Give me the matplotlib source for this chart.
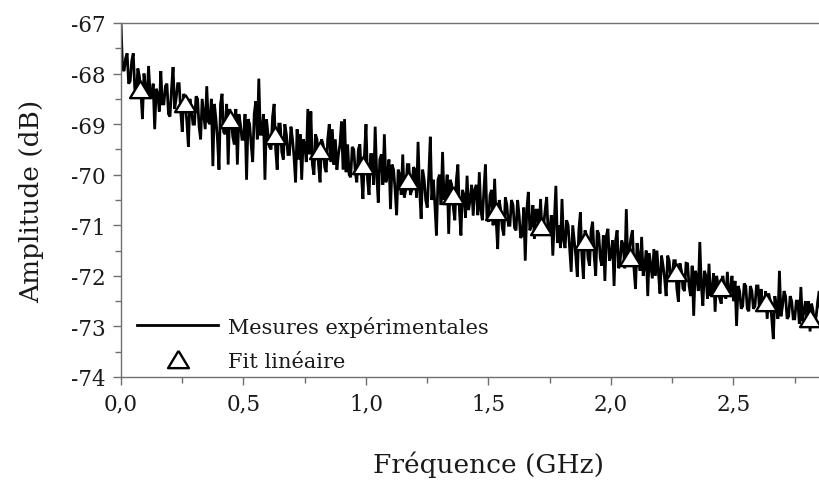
import numpy as np
import matplotlib
matplotlib.use("Agg")
import matplotlib.pyplot as plt
from matplotlib.ticker import MultipleLocator

plt.rcParams['font.family'] = ['DejaVu Serif']

# ---- data ----
freq_step = 0.00625  # GHz between measurement samples
mesures = [
    -67.0, -67.9, -67.95, -67.7, -67.6, -68.2, -68.15, -67.75, -67.6, -68.3,
    -68.45, -67.9, -68.05, -68.35, -68.9, -68.0, -68.3, -68.5, -67.85, -68.4,
    -68.5, -68.2, -69.1, -68.3, -68.4, -68.75, -67.95, -68.6, -68.6, -68.25,
    -68.2, -68.8, -68.85, -68.3, -67.87, -68.7, -68.5, -68.2, -68.2, -68.75,
    -69.15, -68.4, -68.6, -68.95, -69.45, -68.5, -68.7, -69.0, -69.0, -68.45,
    -68.5, -69.05, -69.3, -68.5, -68.8, -69.1, -68.25, -68.95, -69.0, -68.5,
    -69.83, -68.6, -68.9, -69.3, -69.9, -68.6, -68.4, -69.15, -69.2, -68.6,
    -69.8, -68.7, -68.9, -69.25, -69.4, -68.7, -69.8, -68.8, -69.0, -69.3,
    -69.3, -68.8, -70.1, -68.9, -69.0, -69.4, -69.75, -68.8, -68.55, -69.3,
    -68.1, -69.2, -69.2, -68.8, -70.1, -68.9, -69.2, -69.45, -69.5, -68.85,
    -68.6, -69.5, -69.9, -69.0, -69.0, -69.55, -69.7, -69.0, -69.2, -69.6,
    -69.6, -69.05, -69.3, -69.65, -70.15, -69.1, -69.7, -69.2, -70.1, -69.3,
    -69.4, -69.75, -68.7, -69.6, -68.75, -69.8, -70.0, -69.2, -69.3, -69.8,
    -70.15, -69.3, -69.4, -69.85, -69.95, -69.3, -69.0, -69.75, -69.1, -69.8,
    -69.3, -69.9, -69.6, -69.4, -68.95, -69.9, -68.9, -69.95, -69.4, -70.0,
    -70.05, -69.45, -69.5, -69.95, -70.15, -69.5, -69.4, -70.0, -70.48, -69.6,
    -69.0, -70.1, -70.4, -69.6, -69.6, -70.2, -69.05, -70.0, -70.55, -69.7,
    -69.6, -70.2, -69.2, -70.15, -70.0, -69.7, -70.68, -69.8, -69.9, -70.3,
    -70.8, -69.9, -70.0, -70.4, -69.6, -70.45, -70.3, -69.8, -69.8, -70.4,
    -70.3, -69.85, -69.9, -70.45, -69.35, -70.3, -70.87, -69.9, -70.1, -70.5,
    -70.65, -70.0, -69.25, -70.5, -70.1, -70.6, -71.2, -70.1, -70.0, -70.6,
    -69.55, -70.5, -70.4, -70.0, -71.17, -70.1, -70.2, -70.65, -70.9, -70.1,
    -69.8, -70.7, -71.2, -70.3, -70.4, -70.85, -70.02, -70.7, -70.5, -70.2,
    -70.81, -70.3, -70.2, -70.8, -69.95, -70.7, -70.9, -70.3, -69.8, -70.85,
    -70.93, -70.4, -70.3, -71.0, -70.08, -70.9, -71.47, -70.5, -70.7, -71.05,
    -71.2, -70.45, -70.6, -71.0, -71.0, -70.5, -70.6, -71.05, -71.1, -70.5,
    -70.8, -71.25, -71.2, -70.65, -71.7, -70.7, -70.34, -71.1, -71.0, -70.6,
    -71.27, -70.7, -70.7, -71.2, -70.48, -71.2, -71.0, -70.7, -70.44, -71.2,
    -71.1, -70.8, -71.6, -70.9, -70.22, -71.35, -71.0, -71.45, -70.48, -71.3,
    -71.45, -70.9, -71.0, -71.45, -71.92, -71.0, -71.3, -71.6, -72.02, -71.1,
    -70.74, -71.6, -72.06, -71.1, -71.2, -71.65, -71.8, -71.1, -70.93, -71.6,
    -72.0, -71.1, -71.17, -71.65, -71.8, -71.2, -72.1, -71.2, -71.07, -71.7,
    -71.6, -71.3, -72.2, -71.3, -71.1, -71.85, -71.7, -71.3, -71.4, -71.85,
    -70.68, -71.8, -71.5, -71.25, -71.1, -71.85, -72.26, -71.35, -71.6, -71.9,
    -71.23, -72.0, -71.8, -71.5, -72.4, -71.55, -71.8, -72.05, -71.47, -72.0,
    -71.5, -71.95, -72.35, -71.6, -71.8, -72.05, -72.4, -71.6, -71.7, -72.1,
    -72.0, -71.7, -71.7, -72.25, -72.51, -71.75, -71.9, -72.25, -72.3, -71.75,
    -71.76, -72.2, -72.4, -71.8, -72.79, -71.9, -72.0, -72.3, -71.33, -72.2,
    -72.59, -71.9, -72.0, -72.45, -71.76, -72.4, -72.3, -71.95, -72.71, -72.0,
    -72.2, -72.45, -72.55, -72.0, -72.2, -72.45, -71.92, -72.4, -72.3, -72.0,
    -72.5, -72.1, -72.99, -72.2, -72.3, -72.65, -72.6, -72.15, -72.2, -72.65,
    -72.7, -72.2, -72.3, -72.65, -72.6, -72.2, -72.2, -72.7, -72.26, -72.6,
    -72.6, -72.3, -72.85, -72.35, -72.5, -72.85, -73.25, -72.4, -72.6, -72.85,
    -71.9, -72.8, -72.6, -72.3, -72.4, -72.85, -72.8, -72.4, -72.5, -72.85,
    -72.85, -72.5, -72.5, -72.95, -72.22, -72.9, -72.7, -72.5, -72.9, -72.5,
    -73.1, -72.55, -72.7, -72.95, -72.8, -72.5, -72.3, -72.95, -72.7, -72.5,
    -72.9, -72.6, -72.6, -72.95,
]
freq_mesures = np.arange(len(mesures)) * freq_step

freq_fit = [0.078, 0.261, 0.445, 0.629, 0.812, 0.988, 1.171, 1.355,
            1.531, 1.714, 1.894, 2.078, 2.265, 2.449, 2.633, 2.812]
amp_fit = [-68.30, -68.58, -68.90, -69.21, -69.51, -69.81, -70.11, -70.41,
           -70.72, -71.02, -71.32, -71.62, -71.92, -72.22, -72.52, -72.83]

y_ticks = [-67, -68, -69, -70, -71, -72, -73, -74]
y_ticklabels = ["-67", "-68", "-69", "-70", "-71", "-72", "-73", "-74"]
x_ticks = [0.0, 0.5, 1.0, 1.5, 2.0, 2.5]
x_ticklabels = ["0,0", "0,5", "1,0", "1,5", "2,0", "2,5"]

label_mesures = "Mesures expérimentales"
label_fit = "Fit linéaire"
xlabel = "Fréquence (GHz)"
ylabel = "Amplitude (dB)"

# ---- figure ----
fig = plt.figure(figsize=(8.2, 4.89), dpi=100)
ax = fig.add_axes([121/820, 111/489, 735/820, 354/489])

ax.plot(freq_mesures, mesures, color='black', lw=2.0, label=label_mesures,
        solid_joinstyle='miter')
tri = [(0, 0.83), (-1, -0.83), (1, -0.83), (0, 0.83)]
ax.plot(freq_fit, amp_fit, linestyle='none', marker=tri, markersize=15,
        markerfacecolor='white', markeredgecolor='black', markeredgewidth=1.7,
        label=label_fit, zorder=3)

ax.set_xlim(0, 3.0)
ax.set_ylim(-74, -67)
ax.set_yticks(y_ticks)
ax.set_yticklabels(y_ticklabels)
ax.set_xticks(x_ticks)
ax.set_xticklabels(x_ticklabels)
ax.yaxis.set_minor_locator(MultipleLocator(0.5))
ax.xaxis.set_minor_locator(MultipleLocator(0.25))

spine_col = '#707070'
for s in ax.spines.values():
    s.set_color(spine_col)
    s.set_linewidth(1.0)
ax.tick_params(which='both', direction='out', color=spine_col, width=1.0,
               labelsize=15.5, labelcolor='#1a1a1a')
ax.tick_params(which='major', length=6, pad=5)
ax.tick_params(which='minor', length=4)

ax.set_xlabel(xlabel, fontsize=19, labelpad=26, color='#1a1a1a')
ax.set_ylabel(ylabel, fontsize=19, labelpad=19, color='#1a1a1a')

leg = ax.legend(loc='lower left', frameon=False, fontsize=15,
                handlelength=3.9, handletextpad=0.45, labelspacing=0.72,
                borderaxespad=0.2, bbox_to_anchor=(0.005, -0.017))
for t in leg.get_texts():
    t.set_color('#1a1a1a')

fig.savefig("out.png", dpi=100)
